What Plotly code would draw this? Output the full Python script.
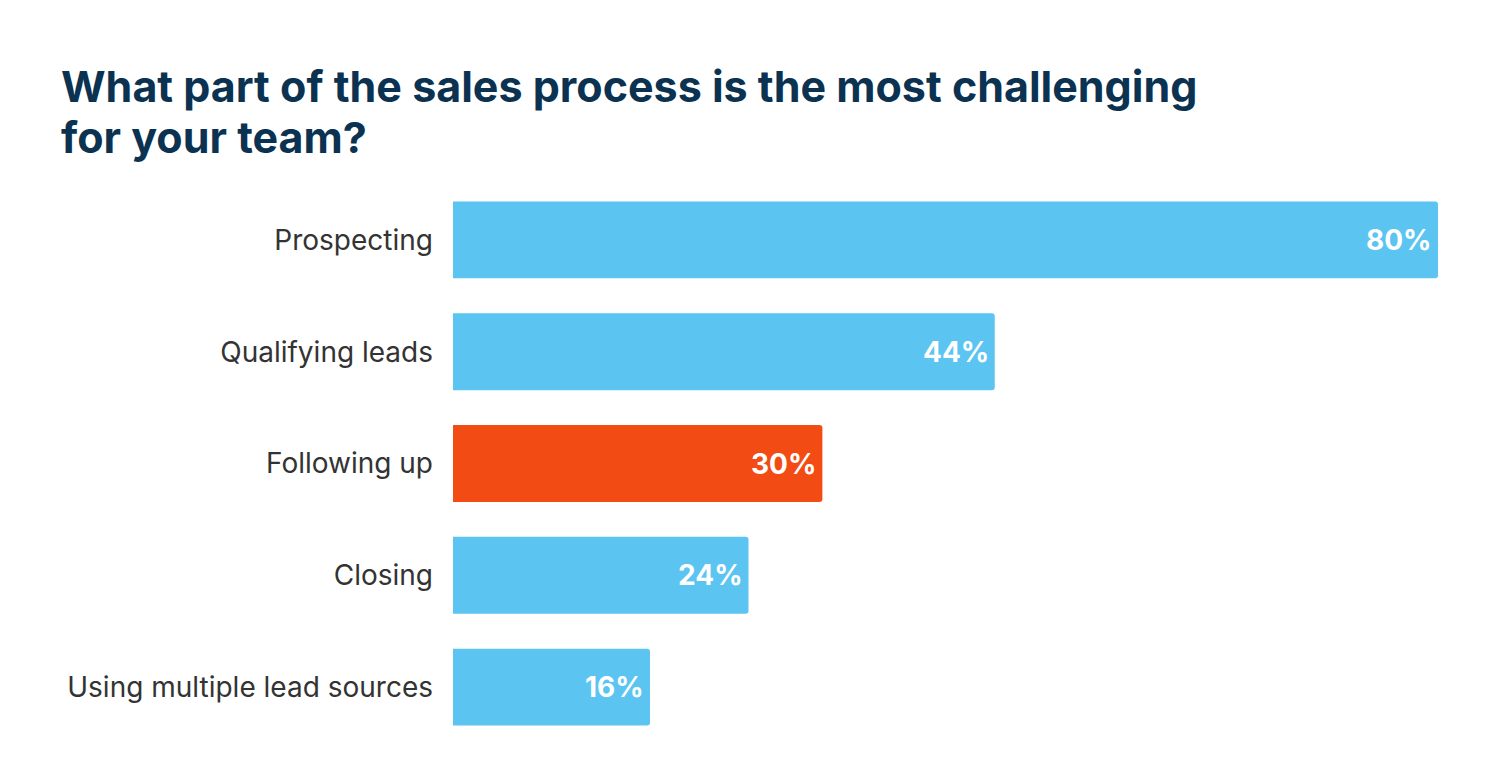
import plotly.graph_objects as go

categories = ["Prospecting", "Qualifying leads", "Following up", "Closing", "Using multiple lead sources"]
values = [80, 44, 30, 24, 16]
colors = ["#5BC4F1", "#5BC4F1", "#F24B14", "#5BC4F1", "#5BC4F1"]
title_lines = ["What part of the sales process is the most challenging", "for your team?"]

W, H = 1508, 784
# page body has an 8px offset; compensate in margins
L, R, T, B = 445, 78, 175.5, 48.5
pw, ph = W - L - R, H - T - B

fig = go.Figure()
fig.add_trace(go.Bar(
    x=values, y=categories, orientation="h",
    marker=dict(color=colors, line=dict(width=0), cornerradius=3),
    hoverinfo="skip",
))

for c, v in zip(categories, values):
    fig.add_annotation(x=v, y=c, xref="x", yref="y", text=f"{v}%", showarrow=False,
                       xanchor="right", yanchor="middle", xshift=-4,
                       font=dict(family="Inter", size=28, color="white", weight="bold"))

for line, py in zip(title_lines, [77, 128]):
    fig.add_annotation(x=(51 - L) / pw, y=(H - B - py) / ph, xref="paper", yref="paper",
                       text=line, showarrow=False, xanchor="left", yanchor="middle",
                       font=dict(family="Inter", size=43, color="#0B3251", weight="bold"))

fig.update_layout(
    width=W, height=H,
    margin=dict(l=L, r=R, t=T, b=B),
    paper_bgcolor="white", plot_bgcolor="white",
    bargap=0.3125,
    showlegend=False,
    xaxis=dict(range=[0, 80], visible=False, fixedrange=True),
    yaxis=dict(autorange="reversed", showgrid=False, zeroline=False, showline=False,
               ticks="", ticklabelstandoff=19, fixedrange=True,
               tickfont=dict(family="Inter", size=28, color="#333333")),
)
fig.write_html("out.html")
